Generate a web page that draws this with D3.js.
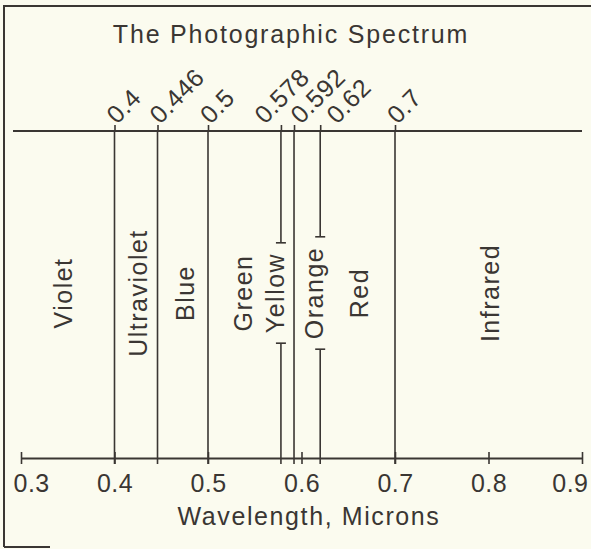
<!DOCTYPE html>
<html>
<head>
<meta charset="utf-8">
<script src="https://cdn.jsdelivr.net/npm/d3@7"></script>
<style>
  body { margin: 0; background: #fbfbef; }
  svg { display: block; font-family: "Liberation Sans", Arial, Helvetica, sans-serif; }
</style>
</head>
<body>
<svg id="chart" width="591" height="549"></svg>
<script>
// wavelength boundaries between bands (microns)
const boundaries = [0.4, 0.446, 0.5, 0.578, 0.592, 0.62, 0.7];
const boundaryLabels = ['0.4', '0.446', '0.5', '0.578', '0.592', '0.62', '0.7'];
// bottom axis
const axisTicks = [0.3, 0.4, 0.5, 0.6, 0.7, 0.8, 0.9];
// band names and the wavelength where each name sits
const bandNames = ['Violet', 'Ultraviolet', 'Blue', 'Green', 'Yellow', 'Orange', 'Red', 'Infrared'];
const bandAt = [0.345, 0.425, 0.476, 0.538, 0.578, 0.62, 0.662, 0.802];
// names drawn on top of a boundary line (line is broken around them)
const onLine = ['Yellow', 'Orange'];

const title = 'The Photographic Spectrum';
const axisTitle = 'Wavelength, Microns';

const ink = '#3a3633';
const svg = d3.select('#chart');
const topY = 131;
const botY = 458;
const labelY = 293;

const x = d3.scaleLinear().domain([0.3, 0.9]).range([21, 582]);

// spread crowded labels apart, keeping each crowd centred on its ticks
function dodge(xs, minGap) {
  let clusters = xs.map((v, i) => ({ idx: [i], start: v }));
  let merged = true;
  while (merged) {
    merged = false;
    for (let i = 0; i < clusters.length - 1; i++) {
      const a = clusters[i];
      const b = clusters[i + 1];
      const aEnd = a.start + (a.idx.length - 1) * minGap;
      if (b.start - aEnd < minGap) {
        const idx = a.idx.concat(b.idx);
        const mean = d3.mean(idx, j => xs[j]);
        clusters.splice(i, 2, { idx, start: mean - (idx.length - 1) * minGap / 2 });
        merged = true;
        break;
      }
    }
  }
  const out = [];
  clusters.forEach(c => c.idx.forEach((j, k) => { out[j] = c.start + k * minGap; }));
  return out;
}

// frame
svg.append('path')
  .attr('d', 'M4,547 L4,6 L591,6')
  .attr('fill', 'none')
  .attr('stroke', ink)
  .attr('stroke-width', 2);
svg.append('line')
  .attr('x1', 4).attr('x2', 50).attr('y1', 547).attr('y2', 547)
  .attr('stroke', ink).attr('stroke-width', 2);

// title
svg.append('text')
  .attr('x', 291).attr('y', 43)
  .attr('text-anchor', 'middle')
  .attr('font-size', 25)
  .attr('letter-spacing', 1.8)
  .attr('fill', ink)
  .text(title);

// top line
svg.append('line')
  .attr('x1', x(0.3) - 8).attr('x2', x(0.9))
  .attr('y1', topY).attr('y2', topY)
  .attr('stroke', ink).attr('stroke-width', 2);

// top axis with rotated labels
const labelX = dodge(boundaries.map(b => x(b)), 36);
const topAxis = svg.append('g')
  .attr('transform', `translate(0,${topY})`)
  .call(d3.axisTop(x).tickValues(boundaries).tickSize(6)
    .tickFormat((d, i) => boundaryLabels[i]));
topAxis.select('.domain').remove();
topAxis.selectAll('.tick line').attr('stroke', ink).attr('stroke-width', 1.6);
topAxis.selectAll('.tick text')
  .attr('y', 0).attr('dy', 0).attr('x', 0)
  .attr('transform', (d, i) => `translate(${labelX[i] - x(d) + 2},-6) rotate(-45)`)
  .attr('text-anchor', 'start')
  .attr('font-size', 25)
  .attr('letter-spacing', 0.5)
  .attr('fill', ink);

// band names
const bands = bandNames.map((name, i) => ({ name, at: bandAt[i] }));
const names = svg.append('g').selectAll('text')
  .data(bands)
  .enter()
  .append('text')
  .attr('transform', d => {
    const off = onLine.includes(d.name) ? -6 : 0;
    return `translate(${x(d.at) + off},${labelY}) rotate(-90)`;
  })
  .attr('dy', '0.35em')
  .attr('text-anchor', 'middle')
  .attr('font-size', 25)
  .attr('letter-spacing', 1.5)
  .attr('fill', ink)
  .text(d => d.name);

// gaps where a name sits on a boundary
const gaps = {};
names.each(function (d) {
  if (onLine.includes(d.name)) {
    const half = this.getComputedTextLength() / 2 + 10;
    gaps[d.at] = [labelY - half, labelY + half];
  }
});

// boundary lines
const lines = svg.append('g');
boundaries.forEach(b => {
  const xb = x(b);
  const gap = gaps[b];
  const segs = gap ? [[topY, gap[0]], [gap[1], botY + 6]] : [[topY, botY + 6]];
  segs.forEach(s => {
    lines.append('line')
      .attr('x1', xb).attr('x2', xb)
      .attr('y1', s[0]).attr('y2', s[1])
      .attr('stroke', ink).attr('stroke-width', 1.6);
  });
  if (gap) {
    gap.forEach(gy => {
      lines.append('line')
        .attr('x1', xb - 5).attr('x2', xb + 5)
        .attr('y1', gy).attr('y2', gy)
        .attr('stroke', ink).attr('stroke-width', 1.6);
    });
  }
});

// bottom axis
const bottomAxis = svg.append('g')
  .attr('transform', `translate(0,${botY})`)
  .call(d3.axisBottom(x).tickValues(axisTicks).tickSizeInner(6).tickSizeOuter(0)
    .tickFormat(d3.format('.1f')));
bottomAxis.select('.domain').attr('stroke', ink).attr('stroke-width', 2);
bottomAxis.selectAll('.tick line')
  .attr('y1', -6).attr('y2', 6)
  .attr('stroke', ink).attr('stroke-width', 1.6);
bottomAxis.selectAll('.tick text')
  .attr('y', 34).attr('dy', 0)
  .attr('font-size', 25)
  .attr('letter-spacing', 0.5)
  .attr('fill', ink)
  .attr('text-anchor', (d, i) => (i === 0 ? 'start' : i === axisTicks.length - 1 ? 'end' : 'middle'))
  .attr('dx', (d, i) => (i === 0 ? -8 : i === axisTicks.length - 1 ? 6 : 0));

// axis title
svg.append('text')
  .attr('x', 309).attr('y', 525)
  .attr('text-anchor', 'middle')
  .attr('font-size', 25)
  .attr('letter-spacing', 1.6)
  .attr('fill', ink)
  .text(axisTitle);
</script>
</body>
</html>
